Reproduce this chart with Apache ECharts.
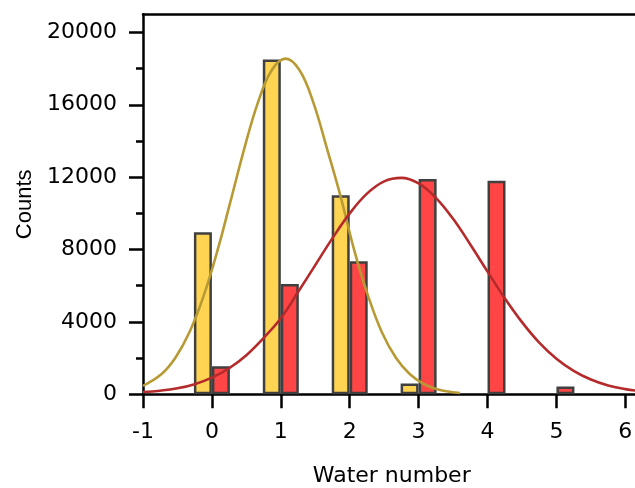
<!DOCTYPE html>
<html><head><meta charset="utf-8">
<script src="https://cdn.jsdelivr.net/npm/echarts@6/dist/echarts.min.js"></script>
<style>html,body{margin:0;padding:0;background:#fff}#c{width:635px;height:488px}</style>
</head><body><div id="c"></div>
<script>
// ---- data ----
const waterNumbers = [0, 1, 2, 3, 4, 5];
const countsYellow = [8950, 18500, 11000, 600, null, null];
const countsRed    = [1550, 6100, 7350, 11900, 11800, 430];

// fitted curves, points
const fitYellowX = [-1, -0.73, -0.53, -0.33, -0.13, 0.07, 0.27, 0.47, 0.67, 0.87, 1.07, 1.27, 1.47, 1.67, 1.87, 2.07, 2.27, 2.47, 2.67, 2.87, 3.07, 3.27, 3.47, 3.6];
const fitYellowY = [470, 1120, 2020, 3400, 5330, 7800, 10660, 13580, 16150, 17920, 18550, 17920, 16150, 13580, 10900, 7900, 5400, 3400, 2020, 1120, 580, 280, 127, 73];
const fitRedX = [-1, -0.75, -0.5, -0.25, 0, 0.25, 0.5, 0.75, 1, 1.25, 1.5, 1.75, 2, 2.25, 2.5, 2.75, 3, 3.25, 3.5, 3.75, 4, 4.25, 4.5, 4.75, 5, 5.25, 5.5, 5.75, 6, 6.25];
const fitRedY = [130, 200, 330, 560, 920, 1440, 2160, 3110, 4200, 5650, 7140, 8630, 10000, 11090, 11770, 11960, 11650, 10860, 9700, 8280, 6780, 5310, 3990, 2860, 1970, 1300, 820, 490, 286, 160];

const xTicks = [-1, 0, 1, 2, 3, 4, 5, 6];
const yTicks = [0, 4000, 8000, 12000, 16000, 20000];

const zip = (xs, ys) => xs.map((x, i) => [x, ys[i]]);

const hFont = 'DejaVu Sans';
const black = '#000';
const chart = echarts.init(document.getElementById('c'), null, {renderer: 'canvas'});
chart.setOption({
  animation: false,
  backgroundColor: '#fff',
  grid: {left: 143, right: -5.5, top: 14.3, bottom: 93.7, containLabel: false, outerBoundsMode: 'none'},
  xAxis: [{
    type: 'value', min: -1, max: 6.22, interval: 1, position: 'bottom',
    axisLine: {onZero: false, lineStyle: {color: black, width: 2.5}},
    axisTick: {customValues: xTicks, length: 14, lineStyle: {color: black, width: 2.5}},
    axisLabel: {customValues: xTicks, margin: 27, fontSize: 22, fontFamily: hFont, color: black,
      formatter: v => String(v)},
    splitLine: {show: false},
    name: 'Water number', nameLocation: 'middle', nameGap: 71,
    nameTextStyle: {fontSize: 22, fontFamily: hFont, color: black}
  }, {
    type: 'value', min: -1, max: 6.22, position: 'top',
    axisLine: {onZero: false, lineStyle: {color: black, width: 2.5}},
    axisTick: {show: false}, axisLabel: {show: false}, splitLine: {show: false}
  }],
  yAxis: {
    type: 'value', min: 0, max: 21000, interval: 4000,
    axisLine: {show: true, onZero: false, lineStyle: {color: black, width: 2.5}},
    axisTick: {customValues: yTicks, length: 14, lineStyle: {color: black, width: 2.5}},
    minorTick: {show: true, splitNumber: 2, length: 7, lineStyle: {color: black, width: 2.5}},
    axisLabel: {customValues: yTicks, margin: 26, fontSize: 22, fontFamily: hFont, color: black,
      formatter: v => String(v)},
    splitLine: {show: false},
    name: 'Counts', nameLocation: 'middle', nameGap: 98,
    nameTextStyle: {fontSize: 22, fontFamily: 'Liberation Sans', color: black}
  },
  series: [{
    type: 'bar', name: 'A', barWidth: 18, barGap: '0%',
    data: zip(waterNumbers, countsYellow),
    itemStyle: {color: '#FFD452', borderColor: '#404040', borderWidth: 2.5}
  }, {
    type: 'bar', name: 'B', barWidth: 18, barGap: '0%',
    data: zip(waterNumbers, countsRed),
    itemStyle: {color: '#FF4545', borderColor: '#404040', borderWidth: 2.5}
  }, {
    type: 'line', name: 'fitA', smooth: 0.4, showSymbol: false, z: 5,
    data: zip(fitYellowX, fitYellowY),
    lineStyle: {color: '#B89A35', width: 2.6}
  }, {
    type: 'line', name: 'fitB', smooth: 0.4, showSymbol: false, z: 5,
    data: zip(fitRedX, fitRedY),
    lineStyle: {color: '#B52A2A', width: 2.6}
  }]
});
</script>
</body></html>
